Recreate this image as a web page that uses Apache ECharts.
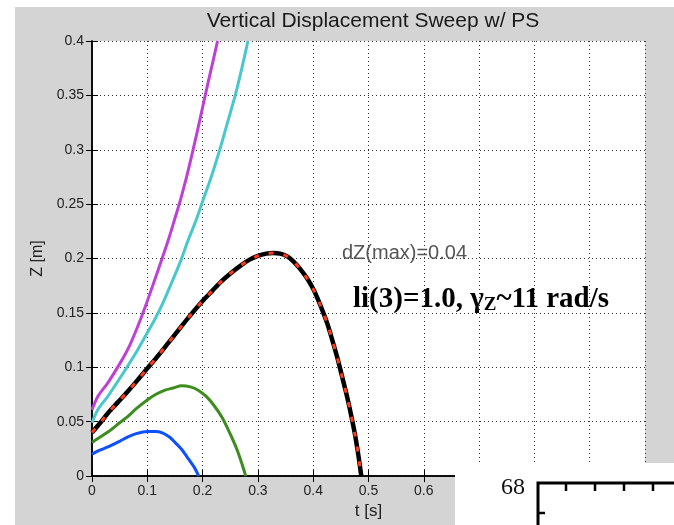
<!DOCTYPE html>
<html>
<head>
<meta charset="utf-8">
<script src="https://cdn.jsdelivr.net/npm/echarts/dist/echarts.min.js"></script>
<style>
    html,body{margin:0;padding:0;background:#fff;}
    #echarts-Sweep{width:674px;height:525px;}
</style>
</head>
<body>
<div id="echarts-Sweep"></div>
<script>
// axis ticks
var xTicks = [0, 0.1, 0.2, 0.3, 0.4, 0.5, 0.6, 0.7, 0.8, 0.9, 1];
var yTicks = [0, 0.05, 0.1, 0.15, 0.2, 0.25, 0.3, 0.35, 0.4];

// curves, t [s] / Z [m]
var magentaT = [0, 0.011, 0.029, 0.053, 0.068, 0.083, 0.098, 0.1135, 0.126, 0.138, 0.15, 0.16, 0.17, 0.18, 0.19, 0.2, 0.21, 0.22, 0.227];
var magentaZ = [0.061, 0.0736, 0.086, 0.1057, 0.12, 0.138, 0.158, 0.1806, 0.199, 0.217, 0.237, 0.254, 0.273, 0.294, 0.316, 0.339, 0.362, 0.384, 0.4];

var cyanT = [0, 0.011, 0.029, 0.053, 0.068, 0.083, 0.098, 0.1135, 0.129, 0.1437, 0.159, 0.174, 0.188, 0.201, 0.215, 0.231, 0.245, 0.259, 0.271, 0.282];
var cyanZ = [0.049, 0.0614, 0.0736, 0.092, 0.104, 0.1164, 0.13, 0.144, 0.16, 0.1775, 0.196, 0.217, 0.235, 0.254, 0.274, 0.3, 0.325, 0.35, 0.375, 0.4];

var blackT = [0, 0.015, 0.029, 0.047, 0.065, 0.082, 0.1, 0.12, 0.138, 0.156, 0.174, 0.2, 0.217, 0.234, 0.252, 0.27, 0.285, 0.3, 0.315, 0.328, 0.34, 0.353, 0.365, 0.377, 0.39, 0.401, 0.413, 0.425, 0.434, 0.443, 0.452, 0.461, 0.469, 0.476, 0.482, 0.487];
var blackZ = [0.04, 0.049, 0.058, 0.068, 0.078, 0.088, 0.099, 0.111, 0.1225, 0.134, 0.1455, 0.161, 0.17, 0.179, 0.187, 0.194, 0.199, 0.2025, 0.2045, 0.205, 0.2045, 0.202, 0.197, 0.19, 0.181, 0.171, 0.157, 0.141, 0.126, 0.11, 0.092, 0.0736, 0.055, 0.037, 0.018, 0];

var greenT = [0, 0.015, 0.03, 0.05, 0.065, 0.08, 0.1, 0.115, 0.132, 0.147, 0.162, 0.178, 0.192, 0.207, 0.222, 0.235, 0.246, 0.256, 0.264, 0.272, 0.278];
var greenZ = [0.031, 0.036, 0.041, 0.049, 0.055, 0.062, 0.07, 0.075, 0.079, 0.081, 0.083, 0.082, 0.079, 0.073, 0.064, 0.054, 0.043, 0.032, 0.022, 0.01, 0];

var blueT = [0, 0.01, 0.03, 0.05, 0.065, 0.08, 0.1, 0.115, 0.126, 0.14, 0.15, 0.163, 0.174, 0.185, 0.193];
var blueZ = [0.02, 0.023, 0.027, 0.032, 0.036, 0.039, 0.041, 0.041, 0.04, 0.036, 0.031, 0.024, 0.016, 0.008, 0];

function pairs(t, z){
    var out = [];
    for(var i = 0; i < t.length; i++){
        out.push([t[i], z[i]]);
    }
    return out;
}

function curve(name, t, z, color, width, type){
    return {
        name: name,
        type: "line",
        data: pairs(t, z),
        showSymbol: false,
        smooth: 0.3,
        clip: true,
        silent: true,
        lineStyle: {color: color, width: width, type: type || "solid"}
    };
}

var tickFont = {fontFamily: "Liberation Sans", fontSize: 14, color: "#222"};
var gridLine = {show: true, lineStyle: {color: "#333", width: 1, type: [1, 3]}};

var chart = echarts.init(document.getElementById("echarts-Sweep")),
    option = {
        animation: false,
        backgroundColor: "#d4d4d4",
        title: {
            text: "Vertical Displacement Sweep w/ PS",
            left: 368,
            top: 6,
            textAlign: "center",
            textStyle: {fontFamily: "Liberation Sans", fontSize: 21, fontWeight: "normal", color: "#1a1a1a"}
        },
        grid: {
            left: 92, right: 29, top: 41, bottom: 48,
            show: true, backgroundColor: "#fff", borderWidth: 0
        },
        xAxis: [{
            type: "value",
            min: xTicks[0],
            max: xTicks[xTicks.length - 1],
            interval: 0.1,
            name: "t [s]",
            nameLocation: "middle",
            nameGap: 24,
            nameTextStyle: {fontFamily: "Liberation Sans", fontSize: 17, color: "#222"},
            axisLine: {lineStyle: {color: "#000", width: 1.5}},
            axisTick: {inside: true, length: 6, lineStyle: {color: "#000"}},
            axisLabel: tickFont,
            splitLine: gridLine
        }, {
            type: "value",
            position: "top",
            min: xTicks[0],
            max: xTicks[xTicks.length - 1],
            interval: 0.1,
            axisLine: {lineStyle: {color: "#000", width: 1.5}},
            axisTick: {inside: true, length: 6, lineStyle: {color: "#000"}},
            axisLabel: {show: false},
            splitLine: {show: false}
        }],
        yAxis: [{
            type: "value",
            min: yTicks[0],
            max: yTicks[yTicks.length - 1],
            interval: 0.05,
            name: "Z [m]",
            nameLocation: "middle",
            nameGap: 42,
            nameTextStyle: {fontFamily: "Liberation Sans", fontSize: 16, color: "#222"},
            axisLine: {show: true, lineStyle: {color: "#000", width: 1.5}},
            axisTick: {show: true, inside: true, length: 6, lineStyle: {color: "#000"}},
            axisLabel: tickFont,
            splitLine: gridLine
        }, {
            type: "value",
            position: "right",
            min: yTicks[0],
            max: yTicks[yTicks.length - 1],
            interval: 0.05,
            axisLine: {show: true, lineStyle: {color: "#000", width: 1.5}},
            axisTick: {show: true, inside: true, length: 6, lineStyle: {color: "#000"}},
            axisLabel: {show: false},
            splitLine: {show: false}
        }],
        series: [
            curve("magenta", magentaT, magentaZ, "#bf40d6", 3),
            curve("cyan", cyanT, cyanZ, "#48c8cc", 3),
            curve("green", greenT, greenZ, "#3c8c1e", 3),
            curve("blue", blueT, blueZ, "#0d50ff", 3),
            curve("black", blackT, blackZ, "#000", 4.5),
            curve("red dash", blackT, blackZ, "#ff3a1a", 3, [5, 10])
        ],
        graphic: [
            // white page edge top/left
            {type: "rect", z: 0, shape: {x: 0, y: 0, width: 15, height: 525}, style: {fill: "#fff"}},
            {type: "rect", z: 0, shape: {x: 0, y: 0, width: 674, height: 7}, style: {fill: "#fff"}},
            {
                type: "text", left: 342, top: 243, z: 10,
                style: {text: "dZ(max)=0.04", fill: "#555", font: "20px 'Liberation Sans'"}
            },
            {
                type: "text", left: 353, top: 274, z: 10,
                style: {
                    text: "{a|li(3)=1.0, γ}{s|Z}{a|~11 rad/s}",
                    rich: {
                        a: {fontFamily: "Liberation Serif", fontWeight: "bold", fontSize: 29, fill: "#000", lineHeight: 30, verticalAlign: "top"},
                        s: {fontFamily: "Liberation Serif", fontWeight: "bold", fontSize: 19, fill: "#000", lineHeight: 19, padding: [22, 0, 0, 0], verticalAlign: "bottom"}
                    }
                }
            },
            // overlapping slide piece, bottom right
            {type: "rect", z: 100, shape: {x: 455, y: 463, width: 219, height: 62}, style: {fill: "#fff"}},
            {
                type: "text", left: 501, top: 476, z: 101,
                style: {text: "68", fill: "#111", font: "24px 'Liberation Serif'"}
            },
            {type: "polyline", z: 101, shape: {points: [[538, 525], [538, 483], [674, 483]]}, style: {stroke: "#000", lineWidth: 3, fill: null}},
            {type: "line", z: 101, shape: {x1: 566, y1: 483, x2: 566, y2: 491}, style: {stroke: "#000", lineWidth: 2.5}},
            {type: "line", z: 101, shape: {x1: 595, y1: 483, x2: 595, y2: 491}, style: {stroke: "#000", lineWidth: 2.5}},
            {type: "line", z: 101, shape: {x1: 624, y1: 483, x2: 624, y2: 491}, style: {stroke: "#000", lineWidth: 2.5}},
            {type: "line", z: 101, shape: {x1: 653, y1: 483, x2: 653, y2: 491}, style: {stroke: "#000", lineWidth: 2.5}},
            {type: "line", z: 101, shape: {x1: 538, y1: 513, x2: 545, y2: 513}, style: {stroke: "#000", lineWidth: 2.5}}
        ]
    };
chart.setOption(option);
</script>
</body>
</html>
